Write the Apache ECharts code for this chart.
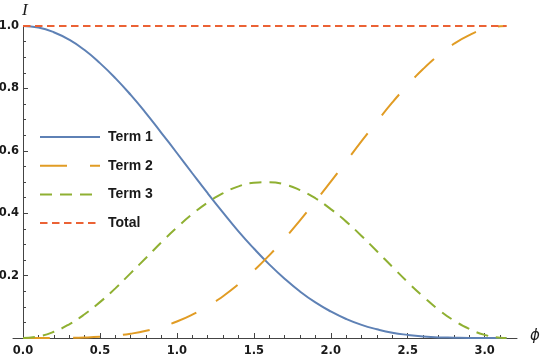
<!DOCTYPE html>
<html>
<head>
<meta charset="utf-8">
<script src="https://cdn.jsdelivr.net/npm/echarts@6/dist/echarts.min.js"></script>
<style>
  html, body { margin: 0; padding: 0; background: #fff; }
  #chart { width: 542px; height: 361px; }
</style>
</head>
<body>
<div id="chart"></div>
<script>
// phi sample points
const phi = [0, 0.1, 0.2, 0.3, 0.4, 0.5, 0.6, 0.7, 0.8, 0.9, 1.0, 1.1, 1.2, 1.3, 1.4, 1.5,
  1.6, 1.7, 1.8, 1.9, 2.0, 2.1, 2.2, 2.3, 2.4, 2.5, 2.6, 2.7, 2.8, 2.9, 3.0, 3.1, 3.1416];
const term1 = [1, 0.995, 0.980, 0.956, 0.923, 0.881, 0.833, 0.779, 0.720, 0.657, 0.593, 0.528,
  0.464, 0.402, 0.342, 0.287, 0.236, 0.190, 0.149, 0.114, 0.085, 0.061, 0.042, 0.028, 0.017,
  0.010, 0.005, 0.002, 0.001, 0.0002, 0, 0, 0];
const term2 = [0, 0, 0.0001, 0.0005, 0.0016, 0.0038, 0.0076, 0.0138, 0.023, 0.036, 0.053, 0.075,
  0.102, 0.134, 0.172, 0.216, 0.265, 0.319, 0.377, 0.438, 0.501, 0.566, 0.631, 0.694, 0.755,
  0.811, 0.862, 0.906, 0.943, 0.971, 0.990, 0.999, 1];
const term3 = [0, 0.005, 0.020, 0.044, 0.076, 0.115, 0.159, 0.208, 0.257, 0.307, 0.354, 0.397,
  0.434, 0.464, 0.486, 0.4975, 0.4995, 0.492, 0.474, 0.448, 0.413, 0.373, 0.327, 0.278, 0.228,
  0.179, 0.133, 0.091, 0.056, 0.029, 0.010, 0.001, 0];
const total = [1, 1, 1, 1, 1, 1, 1, 1, 1, 1, 1, 1, 1, 1, 1, 1, 1, 1, 1, 1, 1, 1, 1, 1, 1, 1, 1,
  1, 1, 1, 1, 1, 1];

const xLabels = [0, 0.5, 1.0, 1.5, 2.0, 2.5, 3.0];
const xMinor = [0.1, 0.2, 0.3, 0.4, 0.6, 0.7, 0.8, 0.9, 1.1, 1.2, 1.3, 1.4, 1.6, 1.7, 1.8, 1.9,
  2.1, 2.2, 2.3, 2.4, 2.6, 2.7, 2.8, 2.9, 3.1];
const yLabels = [0.2, 0.4, 0.6, 0.8, 1.0];
const yMinor = [0.05, 0.1, 0.15, 0.25, 0.3, 0.35, 0.45, 0.5, 0.55, 0.65, 0.7, 0.75, 0.85, 0.9, 0.95];

const pairs = (ys) => phi.map((x, i) => [x, ys[i]]);

const axisColor = "#444";
const labelFont = {
  color: "#1a1a1a",
  fontFamily: "DejaVu Sans",
  fontWeight: "bold",
  fontSize: 11.5,
};

const chart = echarts.init(document.getElementById("chart"));
chart.setOption({
  animation: false,
  grid: { left: 13, right: 25, top: 26, bottom: 23, outerBoundsMode: "none", containLabel: false },
  legend: {
    orient: "vertical",
    left: 34,
    top: 125,
    itemWidth: 60,
    itemHeight: 14,
    itemGap: 14.7,
    itemStyle: { opacity: 0 },
    data: ["Term 1", "Term 2", "Term 3", "Total"],
    textStyle: {
      color: "#1a1a1a",
      fontFamily: "Liberation Sans",
      fontWeight: "bold",
      fontSize: 14,
      padding: [0, 0, 0, 3],
    },
  },
  xAxis: [
    {
      type: "value",
      position: "bottom",
      min: -0.065,
      max: 3.21,
      splitLine: { show: false },
      axisLine: { lineStyle: { color: axisColor, width: 1 } },
      axisTick: { inside: true, length: 5, customValues: xLabels, lineStyle: { color: axisColor } },
      axisLabel: { customValues: xLabels, margin: 7, formatter: (v) => v.toFixed(1), ...labelFont },
    },
    {
      type: "value",
      position: "bottom",
      min: -0.065,
      max: 3.21,
      splitLine: { show: false },
      axisLine: { show: false },
      axisTick: { inside: true, length: 3, customValues: xMinor, lineStyle: { color: axisColor } },
      axisLabel: { show: false },
    },
  ],
  yAxis: [
    {
      type: "value",
      position: "left",
      min: 0,
      max: 1,
      splitLine: { show: false },
      axisLine: { show: true, onZero: true, lineStyle: { color: axisColor, width: 1 } },
      axisTick: { show: true, inside: true, length: 5, customValues: yLabels, lineStyle: { color: axisColor } },
      axisLabel: { show: false },
    },
    {
      type: "value",
      position: "left",
      min: 0,
      max: 1,
      splitLine: { show: false },
      axisLine: { show: false, onZero: true },
      axisTick: { show: true, inside: true, length: 3, customValues: yMinor, lineStyle: { color: axisColor } },
      axisLabel: { show: false },
    },
  ],
  series: [
    {
      name: "Term 1",
      type: "line",
      smooth: true,
      symbol: "none",
      data: pairs(term1),
      color: "#5E81B5",
      lineStyle: { width: 2, color: "#5E81B5" },
    },
    {
      name: "Term 2",
      type: "line",
      smooth: true,
      symbol: "none",
      data: pairs(term2),
      color: "#E19C24",
      lineStyle: { width: 2, color: "#E19C24", type: [27, 23] },
    },
    {
      name: "Term 3",
      type: "line",
      smooth: true,
      symbol: "none",
      data: pairs(term3),
      color: "#8FB032",
      lineStyle: { width: 2, color: "#8FB032", type: [12, 8] },
    },
    {
      name: "Total",
      type: "line",
      symbol: "none",
      data: pairs(total),
      color: "#EB6235",
      lineStyle: { width: 2, color: "#EB6235", type: [7.5, 4.5] },
    },
  ],
});

// y tick labels sit left of the grid, where v6 clips axis labels, so place them as text
// at the positions the y axis gives back
const x0 = chart.convertToPixel({ xAxisIndex: 0 }, 0);
const yLabelTexts = yLabels.map((v) => ({
  type: "text",
  x: x0 - 4,
  y: chart.convertToPixel({ yAxisIndex: 0 }, v),
  style: {
    text: v.toFixed(1),
    align: "right",
    verticalAlign: "middle",
    fill: labelFont.color,
    fontFamily: labelFont.fontFamily,
    fontWeight: labelFont.fontWeight,
    fontSize: labelFont.fontSize,
  },
}));

chart.setOption({
  graphic: [
    {
      type: "text",
      left: 22,
      top: 2,
      style: { text: "I", fontFamily: "Liberation Serif", fontStyle: "italic", fontSize: 17, fill: "#1a1a1a" },
    },
    {
      type: "text",
      left: 530,
      top: 329,
      style: { text: "ϕ", fontFamily: "DejaVu Sans", fontStyle: "italic", fontSize: 15, fill: "#1a1a1a" },
    },
    ...yLabelTexts,
  ],
});
</script>
</body>
</html>
